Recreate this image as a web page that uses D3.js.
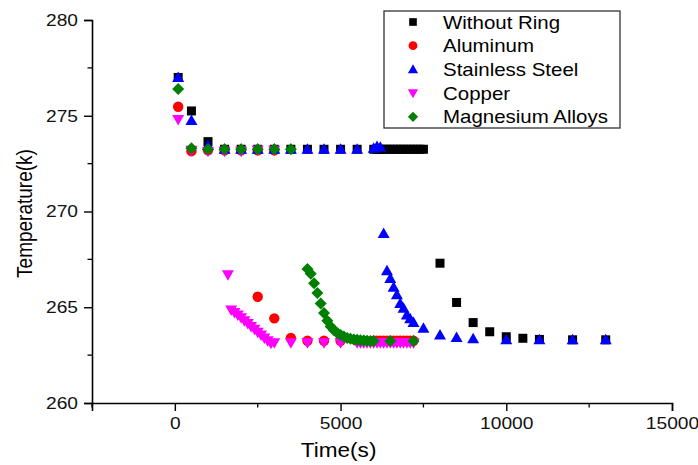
<!DOCTYPE html>
<html>
<head>
<meta charset="utf-8">
<script src="https://cdn.jsdelivr.net/npm/d3@7"></script>
<style>
  html, body { margin: 0; padding: 0; background: #fff; }
  svg { display: block; font-family: "Liberation Sans", Arial, sans-serif; }
</style>
</head>
<body>
<div id="chart"></div>
<script>
// data: [time (s), temperature (K)]
const withoutRing = [
  [100, 277.0], [500, 275.25], [1000, 273.65], [1500, 273.25], [2000, 273.25], [2500, 273.25],
  [3000, 273.25], [3500, 273.25], [4000, 273.25], [4500, 273.25], [5000, 273.25], [5500, 273.25],
  [6000, 273.25], [6100, 273.25], [6200, 273.25], [6300, 273.25], [6400, 273.25], [6500, 273.25],
  [6600, 273.25], [6700, 273.25], [6800, 273.25], [6900, 273.25], [7000, 273.25], [7100, 273.25],
  [7200, 273.25], [7300, 273.25], [7400, 273.25], [7500, 273.25],
  [8000, 267.3], [8500, 265.25], [9000, 264.2], [9500, 263.72], [10000, 263.46], [10500, 263.38],
  [11000, 263.32], [12000, 263.3], [13000, 263.3]
];
const aluminum = [
  [100, 275.47], [500, 273.15], [1000, 273.2], [1500, 273.2], [2000, 273.2], [2500, 273.2], [3000, 273.2],
  [2500, 265.55], [3000, 264.42], [3500, 263.4], [4000, 263.25], [4500, 263.25], [5000, 263.25],
  [5500, 263.25], [6000, 263.25], [6100, 263.25], [6200, 263.25], [6300, 263.25], [6400, 263.25],
  [6500, 263.25], [6600, 263.25], [6700, 263.25], [6800, 263.25], [6900, 263.25], [7000, 263.25],
  [7100, 263.25], [7200, 263.25]
];
const stainless = [
  [100, 277.0], [500, 274.75], [1000, 273.45], [1500, 273.25], [2000, 273.25], [2500, 273.25],
  [3000, 273.25], [3500, 273.25], [4000, 273.25], [4500, 273.25], [5000, 273.25], [5500, 273.25],
  [6000, 273.3], [6100, 273.4], [6200, 273.35],
  [6300, 268.85], [6400, 266.9], [6500, 266.5], [6600, 266.05], [6700, 265.65], [6800, 265.2],
  [6900, 264.95], [7000, 264.6], [7100, 264.4], [7200, 264.2], [7500, 263.9], [8000, 263.55],
  [8500, 263.42], [9000, 263.36], [10000, 263.3], [11000, 263.3], [12000, 263.3], [13000, 263.3]
];
const copper = [
  [100, 274.8], [500, 273.2], [1000, 273.15], [1500, 273.15], [2000, 273.15], [2500, 273.2], [3000, 273.2],
  [1600, 266.7], [1700, 264.85], [1800, 264.72], [1900, 264.6], [2000, 264.45], [2100, 264.3],
  [2200, 264.15], [2300, 264.0], [2400, 263.85], [2500, 263.7], [2600, 263.55], [2700, 263.4],
  [2800, 263.25], [2900, 263.12], [3000, 263.15], [3500, 263.15], [4000, 263.15], [4500, 263.15],
  [5000, 263.15], [5500, 263.15], [5600, 263.15], [5700, 263.15], [5800, 263.15], [5900, 263.15],
  [6000, 263.15], [6100, 263.15], [6200, 263.15], [6300, 263.15], [6400, 263.15], [6500, 263.15],
  [6600, 263.15], [6700, 263.15], [6800, 263.15], [6900, 263.15], [7000, 263.15], [7100, 263.15],
  [7200, 263.15]
];
const magnesium = [
  [100, 276.4], [500, 273.3], [1000, 273.25], [1500, 273.25], [2000, 273.25], [2500, 273.25],
  [3000, 273.25], [3500, 273.25],
  [4000, 267.0], [4100, 266.75], [4200, 266.25], [4300, 265.75], [4400, 265.2], [4500, 264.7],
  [4600, 264.3], [4700, 264.0], [4800, 263.8], [4900, 263.65], [5000, 263.55], [5100, 263.47],
  [5200, 263.4], [5300, 263.35], [5400, 263.32], [5500, 263.3], [5600, 263.28], [5700, 263.26],
  [5800, 263.25], [5900, 263.24], [6000, 263.24], [6500, 263.24], [7200, 263.24]
];

const seriesNames = ["Without Ring", "Aluminum", "Stainless Steel", "Copper", "Magnesium Alloys"];
const seriesData = [withoutRing, aluminum, stainless, copper, magnesium];
const seriesColors = ["#000000", "#ff0000", "#0000ff", "#ff00ff", "#008000"];
const seriesShapes = ["square", "circle", "up", "down", "diamond"];

const xTicks = [0, 5000, 10000, 15000];
const yTicks = [260, 265, 270, 275, 280];

const W = 698, H = 465;
const margin = { left: 92, right: 26, top: 20, bottom: 62 };
const TEXT_STRETCH = 1.13;

const svg = d3.select("#chart").append("svg").attr("width", W).attr("height", H);

const x = d3.scaleLinear().domain([-2500, 15000]).range([margin.left, W - margin.right]);
const y = d3.scaleLinear().domain([260, 280]).range([H - margin.bottom, margin.top]);

// marker path around (0,0)
function markerPath(shape) {
  const p = d3.path();
  if (shape === "square") {
    p.rect(-4.5, -4.5, 9, 9);
  } else if (shape === "circle") {
    p.arc(0, 0, 5.2, 0, 2 * Math.PI);
  } else if (shape === "up") {
    p.moveTo(0, -6); p.lineTo(6, 4.5); p.lineTo(-6, 4.5); p.closePath();
  } else if (shape === "down") {
    p.moveTo(0, 6); p.lineTo(6, -4.5); p.lineTo(-6, -4.5); p.closePath();
  } else {
    p.moveTo(0, -6); p.lineTo(6, 0); p.lineTo(0, 6); p.lineTo(-6, 0); p.closePath();
  }
  return p.toString();
}

// minor ticks
const xMinor = d3.range(-2500, 15001, 2500).filter((v) => !xTicks.includes(v));
const yMinor = d3.range(260, 280.1, 2.5).filter((v) => !yTicks.includes(v));

// x axis
const xAxis = svg.append("g")
  .attr("transform", `translate(0,${y(260)})`)
  .call(d3.axisBottom(x).tickValues(xTicks).tickSize(8).tickPadding(6).tickFormat(d3.format("d")));
xAxis.selectAll(".tick")
  .filter((d) => false)
  .remove();
svg.append("g")
  .selectAll("line")
  .data(xMinor)
  .enter()
  .append("line")
  .attr("x1", (d) => x(d)).attr("x2", (d) => x(d))
  .attr("y1", y(260)).attr("y2", y(260) + 4.5)
  .attr("stroke", "#000").attr("stroke-width", 1.3);

// y axis
const yAxis = svg.append("g")
  .attr("transform", `translate(${x(-2500)},0)`)
  .call(d3.axisLeft(y).tickValues(yTicks).tickSize(8).tickPadding(6));
svg.append("g")
  .selectAll("line")
  .data(yMinor)
  .enter()
  .append("line")
  .attr("x1", x(-2500)).attr("x2", x(-2500) - 4.5)
  .attr("y1", (d) => y(d)).attr("y2", (d) => y(d))
  .attr("stroke", "#000").attr("stroke-width", 1.3);

[xAxis, yAxis].forEach((g) => {
  g.select(".domain").attr("stroke", "#000").attr("stroke-width", 1.6);
  g.selectAll(".tick line").attr("stroke", "#000").attr("stroke-width", 1.4);
  g.selectAll(".tick text")
    .attr("fill", "#111")
    .style("font-size", "17px")
    .style("font-family", '"Liberation Sans", Arial, sans-serif');
});
xAxis.selectAll(".tick text").attr("transform", `scale(${TEXT_STRETCH},1)`);
yAxis.selectAll(".tick text")
  .attr("x", -14 / TEXT_STRETCH)
  .attr("transform", `scale(${TEXT_STRETCH},1)`);

// axis titles
svg.append("text")
  .attr("transform", `translate(${x(5000) - 2},${H - 8}) scale(${TEXT_STRETCH},1)`)
  .attr("text-anchor", "middle")
  .style("font-size", "20px")
  .attr("fill", "#000")
  .text("Time(s)");

svg.append("text")
  .attr("transform", `translate(32,${(y(260) + y(280)) / 2 + 2}) rotate(-90) scale(1,${TEXT_STRETCH})`)
  .attr("text-anchor", "middle")
  .style("font-size", "19px")
  .attr("fill", "#000")
  .text("Temperature(k)");

// points, one group per series
seriesData.forEach((data, si) => {
  svg.append("g")
    .selectAll("path")
    .data(data)
    .enter()
    .append("path")
    .attr("d", markerPath(seriesShapes[si]))
    .attr("transform", (d) => `translate(${x(d[0])},${y(d[1])})`)
    .attr("fill", seriesColors[si]);
});

// legend
const legend = svg.append("g").attr("transform", "translate(384,11)");
legend.append("rect")
  .attr("x", 0).attr("y", 0)
  .attr("width", 236).attr("height", 117)
  .attr("fill", "#fff")
  .attr("stroke", "#333").attr("stroke-width", 1.3);
const item = legend.selectAll(".legend-item")
  .data(seriesNames)
  .enter()
  .append("g")
  .attr("class", "legend-item")
  .attr("transform", (d, i) => `translate(0,${11 + i * 23.7})`);
item.append("path")
  .attr("d", (d, i) => markerPath(seriesShapes[i]))
  .attr("transform", (d, i) => `translate(29,0) scale(0.85)`)
  .attr("fill", (d, i) => seriesColors[i]);
item.append("text")
  .attr("transform", `translate(59,6.5) scale(1.17,1)`)
  .style("font-size", "17.5px")
  .attr("fill", "#000")
  .text((d) => d);
</script>
</body>
</html>
